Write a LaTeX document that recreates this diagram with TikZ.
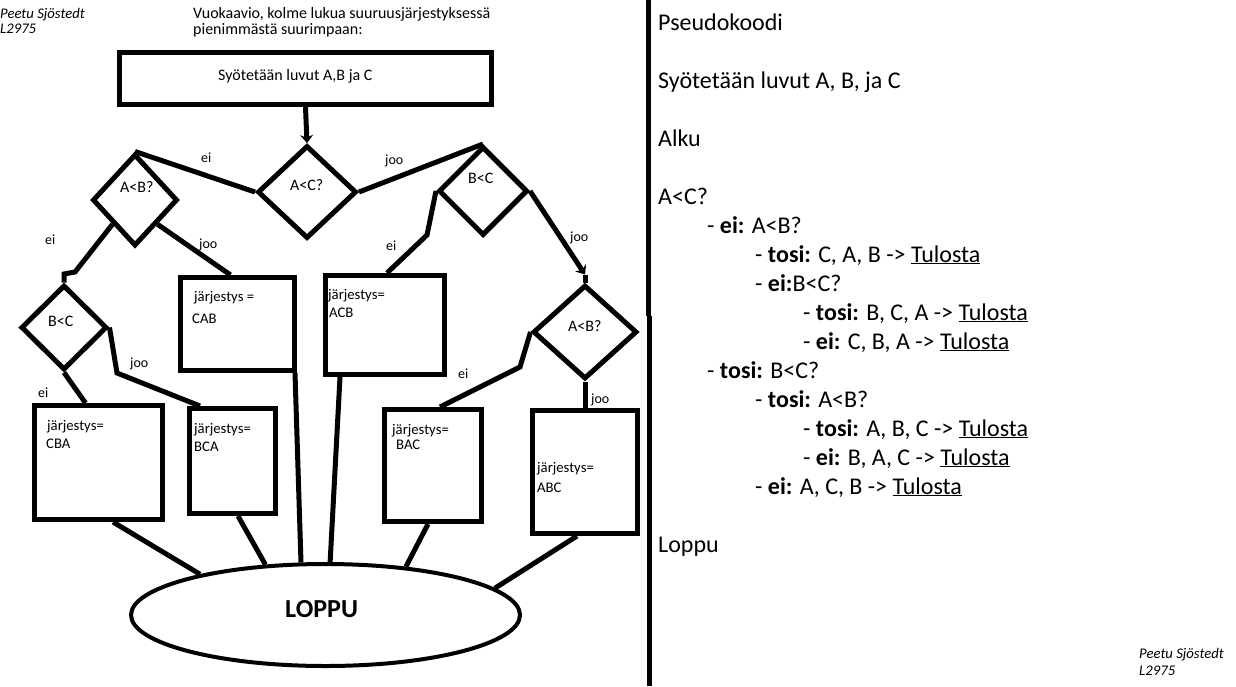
\documentclass[tikz,border=0pt]{standalone}
\usepackage{fontspec}
\setmainfont{Carlito}
\usetikzlibrary{shapes.geometric}
\usetikzlibrary{arrows.meta}

\tikzset{
  flow/.style={line width=5pt},
  decision/.style={diamond, draw, line width=5pt, inner sep=0pt},
  stepbox/.style={rectangle, draw, line width=5pt, inner sep=0pt},
  lbl/.style={anchor=base west, inner sep=0pt, font=\fontsize{14}{16}\selectfont},
  txt/.style={anchor=base west, inner sep=0pt, font=\fontsize{16}{19}\selectfont},
  boxtxt/.style={anchor=base west, inner sep=0pt, font=\fontsize{14.7}{17}\selectfont},
  code/.style={anchor=base west, inner sep=0pt, font=\fontsize{24}{29}\selectfont},
  tip/.style={-{Stealth[length=8pt,width=13pt]}},
}

\begin{document}
\begin{tikzpicture}[x=1pt, y=-1pt]
    \useasboundingbox (0,0) rectangle (1236,686);

    % signature and title
    \node[boxtxt, font=\fontsize{14.7}{17}\selectfont\itshape] (sign1) at (0,18) {Peetu Sjöstedt};
    \node[boxtxt, font=\fontsize{14.7}{17}\selectfont\itshape] (sign2) at (0,33) {L2975};
    \node[txt] (title1) at (193,18) {Vuokaavio, kolme lukua suuruusjärjestyksessä};
    \node[txt] (title2) at (193,34) {pienimmästä suurimpaan:};

    % input and decisions
    \node[stepbox, minimum width=372, minimum height=52] (start) at (305.5,78.5) {};
    \node[txt] (startTxt) at (218,80) {Syötetään luvut A,B ja C};
    \node[decision, minimum width=99, minimum height=93] (acq) at (307,192) {};
    \node[decision, minimum width=85, minimum height=92] (abl) at (135,200) {};
    \node[decision, minimum width=89, minimum height=89] (bcr) at (483,191) {};
    \node[decision, minimum width=86, minimum height=85] (bcl) at (64,327.5) {};
    \node[decision, minimum width=104, minimum height=94] (abr) at (585,332) {};
    \node[txt] (acqTxt) at (290,190) {A<C?};
    \node[txt] (ablTxt) at (120,192) {A<B?};
    \node[txt] (bcrTxt) at (468,183) {B<C};
    \node[txt] (bclTxt) at (48,326) {B<C};
    \node[txt] (abrTxt) at (568,331) {A<B?};

    % results
    \node[stepbox, minimum width=128, minimum height=114] (cba) at (98.5,462.5) {};
    \node[stepbox, minimum width=86, minimum height=105] (bca) at (232.5,461) {};
    \node[stepbox, minimum width=114, minimum height=93] (cab) at (237.5,324) {};
    \node[stepbox, minimum width=119, minimum height=99] (acb) at (385,325) {};
    \node[stepbox, minimum width=97, minimum height=112] (bac) at (433,465.5) {};
    \node[stepbox, minimum width=105, minimum height=123] (abc) at (585,472) {};
    \node[boxtxt] (cbaTxt1) at (47,430) {järjestys=};
    \node[boxtxt] (cbaTxt2) at (46,448) {CBA};
    \node[boxtxt] (bcaTxt1) at (194,433) {järjestys=};
    \node[boxtxt] (bcaTxt2) at (194,451) {BCA};
    \node[boxtxt] (cabTxt1) at (194,301) {järjestys =};
    \node[boxtxt] (cabTxt2) at (192,323) {CAB};
    \node[boxtxt] (acbTxt1) at (328,299) {järjestys=};
    \node[boxtxt] (acbTxt2) at (329,317) {ACB};
    \node[boxtxt] (bacTxt1) at (392,434) {järjestys=};
    \node[boxtxt] (bacTxt2) at (396,449) {BAC};
    \node[boxtxt] (abcTxt1) at (537,472) {järjestys=};
    \node[boxtxt] (abcTxt2) at (537,492) {ABC};

    % end
    \node[ellipse, draw, line width=4pt, minimum width=389, minimum height=102] (loppu) at (325.5,615) {};
    \node[anchor=base west, inner sep=0pt, font=\fontsize{26}{30}\selectfont\bfseries] (loppuTxt) at (285,617) {LOPPU};

    % connectors
    \draw[flow, tip] (start.south) -- (acq.north);
    \draw[flow] (acq.west) -- (abl.north);
    \draw[flow] (acq.east) -- (bcr.north);
    \draw[flow] (bcr.west) -- (427,235) -- ([xshift=2]acb.north);
    \draw[flow, tip] (bcr.east) -- ([yshift=8]abr.north);
    \draw[flow] ([yshift=8]abr.north) -- (abr.north);
    \draw[flow] (abr.west) -- (520,367) -- ([xshift=7]bac.north);
    \draw[flow] (abr.south) -- (abc.north);
    \draw[flow] (abl.south west) -- (75,272) -- (64,274) -- (bcl.north);
    \draw[flow] (abl.south east) -- ([xshift=-7]cab.north);
    \draw[flow] (bcl.south) -- ([xshift=-13]cba.north);
    \draw[flow] (bcl.east) -- (117,373) -- ([xshift=13]bca.north west);
    \node[lbl] (eiA) at (201,162) {ei};
    \node[lbl] (jooA) at (385,164) {joo};
    \node[lbl] (eiB) at (386,250) {ei};
    \node[lbl] (jooB) at (570,241) {joo};
    \node[lbl] (eiC) at (458,378) {ei};
    \node[lbl] (jooC) at (591,403) {joo};
    \node[lbl] (eiD) at (45,244) {ei};
    \node[lbl] (jooD) at (199,248) {joo};
    \node[lbl] (eiE) at (38,397) {ei};
    \node[lbl] (jooE) at (130,367) {joo};

    \draw[flow] ([xshift=14.5]cba.south) -- (loppu.162.6);
    \draw[flow] ([xshift=5.5]bca.south) -- (loppu.140.9);
    \draw[flow] ([xshift=-2]cab.south east) -- (loppu.115.7);
    \draw[flow] ([xshift=17]acb.south west) -- (loppu.85);
    \draw[flow] ([xshift=-5]bac.south) -- (loppu.31.1);
    \draw[flow] ([xshift=-8]abc.south) -- (loppu.9.5);

    % divider
    \draw[line width=5pt] (648.5,0) -- (648.5,316);
    \draw[line width=5pt] (649.5,316) -- (649.5,686);

    % pseudocode
    \node[code] (pc0) at (658,30) {Pseudokoodi};
    \node[code] (pc1) at (658,88) {Syötetään luvut A, B, ja C};
    \node[code] (pc2) at (658,146) {Alku};
    \node[code] (pc3) at (658,204) {A<C?};
    \node[code] (pc4) at (707,233) {- \textbf{ei:} A<B?};
    \node[code] (pc5) at (755,262) {- \textbf{tosi:} C, A, B -> \underline{Tulosta}};
    \node[code] (pc6) at (755,291) {- \textbf{ei:}B<C?};
    \node[code] (pc7) at (803,320) {- \textbf{tosi:} B, C, A -> \underline{Tulosta}};
    \node[code] (pc8) at (803,349) {- \textbf{ei:} C, B, A -> \underline{Tulosta}};
    \node[code] (pc9) at (707,378) {- \textbf{tosi:} B<C?};
    \node[code] (pc10) at (755,407) {- \textbf{tosi:} A<B?};
    \node[code] (pc11) at (803,436) {- \textbf{tosi:} A, B, C -> \underline{Tulosta}};
    \node[code] (pc12) at (803,465) {- \textbf{ei:} B, A, C -> \underline{Tulosta}};
    \node[code] (pc13) at (755,494) {- \textbf{ei:} A, C, B -> \underline{Tulosta}};
    \node[code] (pc14) at (658,552) {Loppu};

    \node[boxtxt, font=\fontsize{14.7}{17}\selectfont\itshape] (sign3) at (1139,658) {Peetu Sjöstedt};
    \node[boxtxt, font=\fontsize{14.7}{17}\selectfont\itshape] (sign4) at (1139,675) {L2975};
\end{tikzpicture}
\end{document}
